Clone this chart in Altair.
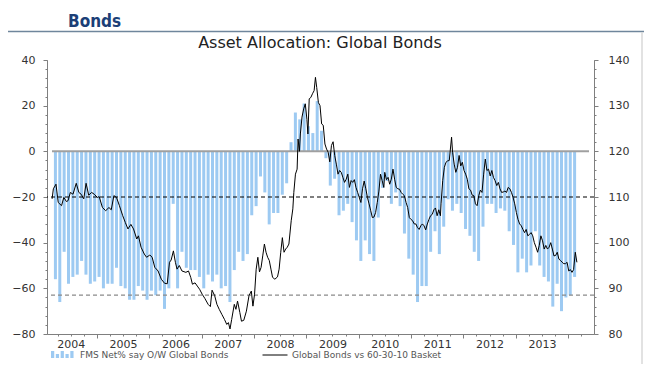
import altair as alt
import pandas as pd

# ---------------- data ----------------
TITLE = "Asset Allocation: Global Bonds"
HEADER = "Bonds"
SERIES_BAR = "FMS Net% say O/W Global Bonds"
SERIES_LINE = "Global Bonds vs 60-30-10 Basket"

# monthly bars (left axis), March 2004 .. February 2014
BAR_START = "2004-03"
BAR_VALUES = [
    -56, -66, -44, -58, -55, -54, -48, -54, -58, -57,
    -55, -60, -58, -58, -51, -59, -60, -65, -65, -59, -61, -65,
    -61, -63, -61, -69, -60, -23, -60, -44, -51, -52, -52, -55,
    -60, -54, -57, -54, -60, -59, -66, -52, -44, -48, -45, -28,
    -24, -11, -18, -32, -27, -27, -19, -14, 4, 17, 14, 21,
    11, 8, 22, 9, -3, -15, -12, -28, -26, -23, -31, -39,
    -48, -39, -45, -48, -29, -16, -13, -23, -18, -24, -36, -47,
    -54, -66, -59, -59, -44, -35, -45, -33, -21, -26, -23, -27,
    -34, -37, -44, -48, -33, -23, -23, -27, -25, -26, -35, -41,
    -53, -47, -53, -50, -35, -50, -55, -57, -68, -58, -70, -64,
    -63, -55,
]

# relative performance line (right axis), decimal years
LINE_T = [
    2004.145, 2004.169, 2004.219, 2004.262, 2004.325, 2004.369, 2004.419, 2004.450, 2004.494, 2004.544,
    2004.606, 2004.656, 2004.700, 2004.750, 2004.794, 2004.844, 2004.900, 2004.950, 2005.012, 2005.044,
    2005.106, 2005.169, 2005.231, 2005.275, 2005.325, 2005.375, 2005.431, 2005.494, 2005.544, 2005.594,
    2005.650, 2005.700, 2005.762, 2005.794, 2005.844, 2005.906, 2005.950, 2006.012, 2006.056, 2006.106,
    2006.169, 2006.231, 2006.294, 2006.344, 2006.387, 2006.419, 2006.462, 2006.500, 2006.531, 2006.575,
    2006.625, 2006.700, 2006.750, 2006.793, 2006.825, 2006.875, 2006.918, 2006.962, 2007.012, 2007.062,
    2007.125, 2007.168, 2007.200, 2007.250, 2007.293, 2007.337, 2007.387, 2007.437, 2007.481, 2007.512,
    2007.543, 2007.575, 2007.625, 2007.656, 2007.687, 2007.731, 2007.762, 2007.806, 2007.856, 2007.906,
    2007.950, 2007.981, 2008.012, 2008.043, 2008.075, 2008.106, 2008.137, 2008.168, 2008.200, 2008.231,
    2008.262, 2008.293, 2008.325, 2008.356, 2008.400, 2008.450, 2008.481, 2008.512, 2008.543, 2008.575,
    2008.606, 2008.637, 2008.668, 2008.712, 2008.743, 2008.762, 2008.793, 2008.825, 2008.843, 2008.868,
    2008.887, 2008.918, 2008.950, 2008.981, 2009.012, 2009.031, 2009.056, 2009.087, 2009.118, 2009.150,
    2009.175, 2009.199, 2009.231, 2009.262, 2009.293, 2009.324, 2009.356, 2009.387, 2009.418, 2009.449,
    2009.481, 2009.512, 2009.543, 2009.574, 2009.606, 2009.637, 2009.668, 2009.699, 2009.731, 2009.762,
    2009.793, 2009.824, 2009.856, 2009.887, 2009.918, 2009.949, 2009.981, 2010.012, 2010.043, 2010.074,
    2010.106, 2010.137, 2010.168, 2010.199, 2010.231, 2010.262, 2010.293, 2010.324, 2010.356, 2010.387,
    2010.418, 2010.449, 2010.481, 2010.499, 2010.531, 2010.562, 2010.593, 2010.624, 2010.656, 2010.687,
    2010.718, 2010.749, 2010.781, 2010.812, 2010.843, 2010.874, 2010.906, 2010.937, 2010.968, 2010.999,
    2011.031, 2011.062, 2011.093, 2011.124, 2011.156, 2011.187, 2011.218, 2011.249, 2011.281, 2011.312,
    2011.343, 2011.374, 2011.406, 2011.437, 2011.468, 2011.499, 2011.531, 2011.562, 2011.574, 2011.606,
    2011.637, 2011.668, 2011.699, 2011.731, 2011.775, 2011.794, 2011.825, 2011.856, 2011.888, 2011.919,
    2011.950, 2011.981, 2012.013, 2012.044, 2012.075, 2012.106, 2012.138, 2012.169, 2012.200, 2012.231,
    2012.263, 2012.294, 2012.325, 2012.356, 2012.388, 2012.419, 2012.450, 2012.481, 2012.513, 2012.544,
    2012.575, 2012.606, 2012.638, 2012.669, 2012.700, 2012.731, 2012.763, 2012.794, 2012.825, 2012.856,
    2012.888, 2012.919, 2012.950, 2012.981, 2013.013, 2013.044, 2013.075, 2013.106, 2013.138, 2013.169,
    2013.200, 2013.231, 2013.263, 2013.294, 2013.325, 2013.356, 2013.388, 2013.419, 2013.450, 2013.481,
    2013.513, 2013.544, 2013.575, 2013.606, 2013.638, 2013.669, 2013.700, 2013.731, 2013.763, 2013.794,
    2013.825, 2013.856, 2013.888, 2013.919, 2013.950, 2013.981, 2014.013, 2014.044, 2014.075, 2014.106,
    2014.138, 2014.169,
]
LINE_V = [
    109.6, 111.8, 112.8, 108.8, 108.1, 109.9, 109.0, 109.2, 111.0, 110.6,
    113.0, 111.0, 110.6, 109.6, 113.0, 110.4, 111.0, 110.6, 109.9, 110.1,
    107.7, 107.0, 107.7, 107.2, 110.3, 109.9, 108.1, 105.9, 104.4, 103.0,
    104.0, 103.0, 100.8, 101.5, 99.0, 97.5, 96.8, 97.3, 96.8, 94.6,
    93.8, 92.0, 91.1, 91.0, 95.7, 96.2, 98.2, 95.7, 94.2, 95.0,
    93.8, 93.5, 93.8, 92.4, 90.9, 91.2, 90.5, 89.8, 88.7, 87.8,
    86.5, 86.0, 89.6, 88.4, 86.5, 85.4, 84.3, 83.2, 82.1, 82.5,
    81.1, 83.2, 86.5, 85.4, 87.2, 84.7, 82.8, 83.0, 85.0, 88.4,
    89.4, 86.1, 88.7, 94.2, 96.8, 93.6, 94.6, 97.1, 99.7, 97.9,
    96.8, 96.1, 94.2, 92.4, 92.0, 92.5, 94.2, 97.9, 101.1, 97.9,
    98.6, 99.0, 99.7, 104.8, 107.4, 111.0, 115.0, 116.1, 122.7, 120.0,
    123.8, 127.5, 129.3, 130.4, 127.0, 123.8, 131.5, 131.8, 132.6, 133.3,
    136.2, 134.0, 130.7, 130.0, 126.0, 125.7, 121.6, 120.5, 119.8, 117.7,
    121.3, 122.1, 119.1, 117.2, 115.0, 115.8, 115.4, 114.3, 113.2, 113.9,
    115.0, 112.1, 113.6, 113.2, 113.8, 112.1, 111.0, 109.9, 108.8, 111.8,
    113.5, 111.8, 109.9, 108.5, 107.0, 105.5, 105.6, 106.6, 108.8, 111.3,
    115.0, 113.6, 112.1, 115.4, 113.8, 114.3, 112.8, 113.9, 116.1, 113.9,
    112.1, 111.8, 111.7, 111.0, 110.6, 110.3, 108.8, 107.7, 105.5, 105.1,
    104.8, 104.1, 104.1, 103.3, 102.9, 103.7, 104.1, 103.7, 102.8, 104.1,
    105.1, 105.9, 106.2, 107.2, 107.6, 105.9, 107.2, 105.9, 108.5, 113.6,
    116.5, 117.6, 117.9, 118.0, 123.1, 119.8, 117.2, 115.4, 116.5, 119.1,
    116.8, 117.6, 115.8, 115.0, 113.9, 111.8, 111.5, 110.4, 110.3, 108.5,
    108.1, 110.3, 111.5, 111.0, 115.0, 118.3, 115.8, 116.1, 114.6, 115.8,
    114.3, 113.6, 112.5, 113.2, 111.8, 111.0, 111.1, 111.3, 111.0, 112.1,
    111.8, 111.0, 109.9, 108.5, 106.6, 105.1, 104.1, 103.7, 102.9, 102.2,
    102.9, 101.5, 101.8, 102.2, 101.5, 100.0, 99.0, 97.9, 99.4, 101.5,
    100.4, 98.6, 99.4, 98.6, 99.0, 100.0, 98.6, 97.1, 97.2, 97.9,
    96.4, 96.1, 95.7, 95.4, 95.4, 95.7, 93.8, 94.1, 93.5, 94.1,
    97.9, 95.7,
]

YEARS = list(range(2004, 2014))            # year labels
MAJOR_TICKS = list(range(2005, 2015))      # year boundaries
X_DOMAIN = [2004.143, 2014.40]
LEFT_DOMAIN = [-80, 40]
RIGHT_DOMAIN = [80, 140]
REF_AVG_RIGHT = [110]      # black dashed reference (right-axis units)
REF_LOW_RIGHT = [88.5]     # grey dashed reference (right-axis units)

BLUE = "#9DCAF2"
AXIS_GREY = "#7f7f7f"
LABEL_COLOR = "#333333"
FONT = "DejaVu Sans"

# ---------------- tables ----------------
months = pd.period_range(BAR_START, periods=len(BAR_VALUES), freq="M")
bar_df = pd.DataFrame({
    "t": [p.year + (p.month - 0.5) / 12 for p in months],
    "v": BAR_VALUES,
    "s": SERIES_BAR,
})
line_df = pd.DataFrame({"t": LINE_T, "v": LINE_V, "s": SERIES_LINE})
zero_df = pd.DataFrame({"x0": [X_DOMAIN[0]], "x1": [X_DOMAIN[1]], "y": [0]})
quarters = [y + q / 4 for y in range(2004, 2015) for q in range(4)
            if X_DOMAIN[0] <= y + q / 4 <= X_DOMAIN[1] and q != 0]

xs = alt.Scale(domain=X_DOMAIN, nice=False, zero=False)
left_scale = alt.Scale(domain=LEFT_DOMAIN, nice=False, zero=False)
right_scale = alt.Scale(domain=RIGHT_DOMAIN, nice=False, zero=False)

x_major = alt.Axis(orient="bottom", values=MAJOR_TICKS, labels=False, tickSize=4,
                   grid=False, title=None, domainColor=AXIS_GREY, tickColor=AXIS_GREY)
x_minor = alt.Axis(orient="bottom", values=quarters, labels=False, tickSize=2,
                   domain=False, grid=False, title=None, tickColor=AXIS_GREY)
x_labels = alt.Axis(orient="bottom", values=[y + 0.5 for y in YEARS],
                    labelExpr="floor(datum.value)", ticks=False, domain=False,
                    grid=False, title=None, labelPadding=4, labelFont=FONT,
                    labelFontSize=11, labelColor=LABEL_COLOR, labelOverlap=False,
                    labelFlush=False)

left_major = alt.Axis(orient="left", values=list(range(-80, 41, 20)), tickSize=4,
                      grid=False, title=None, labelPadding=8, labelFont=FONT,
                      labelFontSize=11, labelColor=LABEL_COLOR,
                      domainColor=AXIS_GREY, tickColor=AXIS_GREY)
left_minor = alt.Axis(orient="left", values=list(range(-80, 41, 4)), tickSize=2,
                      labels=False, domain=False, grid=False, title=None,
                      tickColor=AXIS_GREY)
right_major = alt.Axis(orient="right", values=list(range(80, 141, 10)), tickSize=4,
                       grid=False, title=None, labelPadding=10, labelFont=FONT,
                       labelFontSize=11, labelColor=LABEL_COLOR,
                       domainColor=AXIS_GREY, tickColor=AXIS_GREY)
right_minor = alt.Axis(orient="right", values=list(range(80, 141, 2)), tickSize=2,
                       labels=False, domain=False, grid=False, title=None,
                       tickColor=AXIS_GREY)

BAR_ICON = ("M-1,-0.3H-0.72V0.3H-1Z M-0.58,-0.05H-0.3V0.3H-0.58Z "
            "M-0.16,-0.3H0.12V0.3H-0.16Z M0.26,-0.05H0.54V0.3H0.26Z "
            "M0.68,-0.3H0.96V0.3H0.68Z")

leg_bar = alt.Legend(orient="none", legendX=4, legendY=283, title=None,
                     symbolType=BAR_ICON, symbolSize=529, symbolStrokeWidth=0,
                     labelFont=FONT, labelFontSize=9, labelColor="#555555",
                     labelOffset=6, padding=0)
leg_line = alt.Legend(orient="none", legendX=215, legendY=282, title=None,
                      symbolType="stroke", symbolSize=625, symbolStrokeWidth=1,
                      labelFont=FONT, labelFontSize=9, labelColor="#555555",
                      labelOffset=4, padding=0)

# ---------------- layers ----------------
bars = alt.Chart(bar_df).mark_bar(width=3, orient="vertical").encode(
    x=alt.X("t:Q", scale=xs, axis=x_major),
    y=alt.Y("v:Q", scale=left_scale, axis=left_major),
    y2=alt.Y2(datum=0),
    color=alt.Color("s:N", scale=alt.Scale(domain=[SERIES_BAR], range=[BLUE]),
                    legend=leg_bar),
)

zero = alt.Chart(zero_df).mark_rule(color="#a0a0a0", strokeWidth=2).encode(
    x=alt.X("x0:Q", scale=xs, axis=x_minor),
    x2="x1:Q",
    y=alt.Y("y:Q", scale=left_scale, axis=left_minor),
)

ref_avg = alt.Chart(pd.DataFrame({"y": REF_AVG_RIGHT})).mark_rule(
    color="black", strokeWidth=1.2, strokeDash=[4, 3]).encode(
    y=alt.Y("y:Q", scale=right_scale, axis=right_minor))

ref_low = alt.Chart(pd.DataFrame({"y": REF_LOW_RIGHT})).mark_rule(
    color="#8a8a8a", strokeWidth=1.2, strokeDash=[4, 3]).encode(
    y=alt.Y("y:Q", scale=right_scale, axis=None))

line = alt.Chart(line_df).mark_line(strokeWidth=1).encode(
    x=alt.X("t:Q", scale=xs, axis=x_labels),
    y=alt.Y("v:Q", scale=right_scale, axis=right_major),
    stroke=alt.Stroke("s:N", scale=alt.Scale(domain=[SERIES_LINE], range=["black"]),
                      legend=leg_line),
)

title = alt.Chart(pd.DataFrame({"txt": [TITLE]})).mark_text(
    font=FONT, fontSize=16, color="#222222", align="center", baseline="alphabetic"
).encode(text="txt:N", x=alt.value(273), y=alt.value(-12))

header = alt.Chart(pd.DataFrame({"txt": [HEADER]})).mark_text(
    font="Liberation Sans Narrow, Arial Narrow, DejaVu Sans Condensed, Liberation Sans",
    fontSize=17, fontWeight="bold", color="#1c3f77", align="left", baseline="alphabetic"
).encode(text="txt:N", x=alt.value(21), y=alt.value(-33.5))

header_rule = alt.Chart(pd.DataFrame({"k": [0]})).mark_rule(
    color="#6f869c", strokeWidth=1.5).encode(
    x=alt.value(-39), x2=alt.value(597), y=alt.value(-28.5))

side_rule = alt.Chart(pd.DataFrame({"k": [0]})).mark_rule(
    color="#d9d9d9", strokeWidth=1.5).encode(
    x=alt.value(595), y=alt.value(-28), y2=alt.value(310))

chart = alt.layer(
    bars, zero, ref_avg, ref_low, line, title, header, header_rule, side_rule
).resolve_scale(
    y="independent"
).resolve_axis(
    x="independent", y="independent"
).properties(
    width=547, height=274,
    autosize=alt.AutoSizeParams(type="none"),
    padding={"left": 39, "top": 52, "right": 50, "bottom": 30},
    background="white",
).configure_view(stroke=None)

chart.save("out.html", embed_options={"renderer": "svg", "actions": False})
